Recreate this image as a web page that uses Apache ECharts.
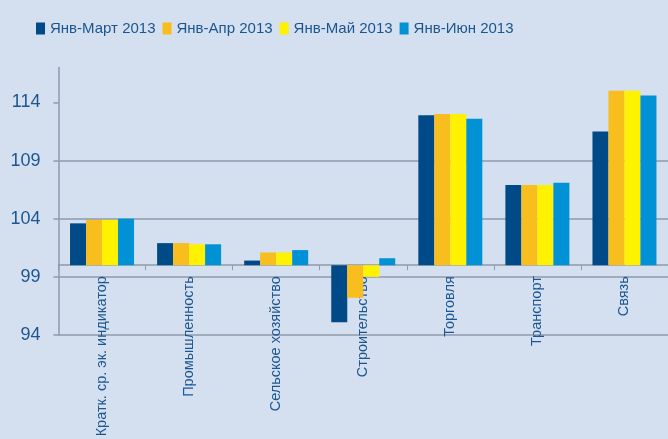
<!DOCTYPE html>
<html>
<head>
<meta charset="utf-8">
<style>
  html, body { margin: 0; padding: 0; background: #d4dfef; }
  #chart { width: 668px; height: 439px; }
</style>
<script src="https://cdn.jsdelivr.net/npm/echarts@6/dist/echarts.min.js"></script>
</head>
<body>
<div id="chart"></div>
<script>
// bars start from 100, so values are drawn as (value - 100)
const BASE = 100
const categories = ["Кратк. ср. эк. индикатор", "Промышленность", "Сельское хозяйство",
  "Строительство", "Торговля", "Транспорт", "Связь"]
const seriesNames = ["Янв-Март 2013", "Янв-Апр 2013", "Янв-Май 2013", "Янв-Июн 2013"]
const janMar = [103.6, 101.9, 100.4, 95.1, 112.9, 106.9, 111.5]
const janApr = [103.9, 101.9, 101.1, 97.2, 113.0, 106.9, 115.0]
const janMay = [103.9, 101.8, 101.1, 99.0, 113.0, 106.9, 115.0]
const janJun = [104.0, 101.8, 101.3, 100.6, 112.6, 107.1, 114.6]
const yTicks = [94, 99, 104, 109, 114]
const colors = ["#004a87", "#f8be1e", "#fff200", "#0092d5"]

const textColor = "#1b5690"
const lineColor = "#8f9aac"

const Y_MIN = -6, Y_MAX = 17
const gridTop = 67.5, gridBottom = 104
// move the category axis up to the 100 line (value 0)
const plotH = 439 - gridTop - gridBottom
const zeroOffset = plotH * (0 - Y_MIN) / (Y_MAX - Y_MIN)

const chart = echarts.init(document.getElementById("chart"))

const makeSeries = (name, data, i) => ({
  name: name,
  type: "bar",
  barWidth: 16,
  barGap: "0%",
  itemStyle: { color: colors[i] },
  data: data.map((v) => +(v - BASE).toFixed(2)),
})

const tickVals = yTicks.map((t) => t - BASE)

const option = {
  backgroundColor: "#d4dfef",
  animation: false,
  textStyle: { fontFamily: "Liberation Sans, Arial, sans-serif" },
  legend: {
    left: 31,
    top: 16,
    itemWidth: 9,
    itemHeight: 12,
    itemGap: 7,
    icon: "rect",
    textStyle: { fontSize: 15, color: textColor },
    data: seriesNames,
  },
  grid: { left: 58.5, right: 0, top: gridTop, bottom: gridBottom, containLabel: false, outerBoundsMode: "none" },
  xAxis: {
    type: "category",
    data: categories,
    offset: -zeroOffset,
    axisLine: { onZero: false, lineStyle: { color: lineColor, width: 1.5 } },
    axisTick: { show: true, length: 5, lineStyle: { color: lineColor } },
    axisLabel: { rotate: 90, margin: 11, fontSize: 14.5, color: textColor },
  },
  yAxis: {
    type: "value",
    min: Y_MIN,
    max: Y_MAX,
    interval: 5,
    axisLine: { show: true, lineStyle: { color: lineColor, width: 1.5 } },
    axisTick: { show: true, length: 5, customValues: tickVals, lineStyle: { color: lineColor, width: 1.5 } },
    axisLabel: {
      margin: 18,
      fontSize: 18,
      color: textColor,
      customValues: tickVals,
      formatter: (v) => String(Math.round(v + BASE)),
    },
    splitLine: { show: true, showMaxLine: false, lineStyle: { color: lineColor, width: 1.5 } },
  },
  series: [
    makeSeries(seriesNames[0], janMar, 0),
    makeSeries(seriesNames[1], janApr, 1),
    makeSeries(seriesNames[2], janMay, 2),
    makeSeries(seriesNames[3], janJun, 3),
  ],
}

chart.setOption(option)
</script>
</body>
</html>
